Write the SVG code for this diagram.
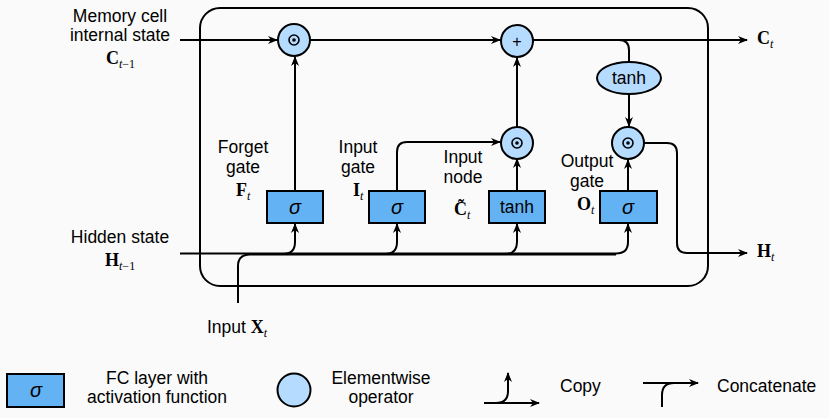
<svg xmlns="http://www.w3.org/2000/svg" width="829" height="418" viewBox="0 0 829 418">
<defs>
<marker id="ah" viewBox="0 0 10 8" refX="9" refY="4" markerWidth="10" markerHeight="8" markerUnits="userSpaceOnUse" orient="auto">
<path d="M0,0 L10,4 L0,8 L3,4 z" fill="#000"/>
</marker>
</defs>
<style>
.ln{fill:none;stroke:#000;stroke-width:2}
.ar{marker-end:url(#ah)}
.box{fill:#63b3f4;stroke:#000;stroke-width:2}
.op{fill:#b5dbff;stroke:#000;stroke-width:2}
.t{font-family:"Liberation Sans",Arial,sans-serif;font-size:17.5px;fill:#000}
.m{text-anchor:middle}
.sg{font-family:"Liberation Sans",Arial,sans-serif;font-size:20px;font-style:italic;text-anchor:middle}
.v{font-family:"Liberation Serif","Times New Roman",serif;font-size:18px;font-weight:bold}
.s{font-size:12px;font-weight:normal}
.i{font-style:italic}
</style>
<rect width="829" height="418" fill="#fafafa"/>
<rect x="200" y="8" width="508" height="278" rx="20" class="ln"/>

<g id="connectors">
<path class="ln ar" d="M180,40 L277,40"/>
<path class="ln ar" d="M310,40 L500,40"/>
<path class="ln ar" d="M533,40 L747,40"/>
<path class="ln" d="M533,40 L619,40 Q629,40 629,50 L629,62"/>
<path class="ln ar" d="M629,94 L629,126"/>
<path class="ln ar" d="M295,191 L295,57"/>
<path class="ln ar" d="M397,191 L397,152 Q397,142 407,142 L500,142"/>
<path class="ln ar" d="M517,191 L517,159"/>
<path class="ln ar" d="M517,127 L517,58"/>
<path class="ln ar" d="M628,191 L628,160"/>
<path class="ln ar" d="M644,143 L667,143 Q677,143 677,153 L677,243 Q677,253 687,253 L747,253"/>
<path class="ln ar" d="M180,253.5 L616,253.5 Q628,253.5 628,242 L628,224"/>
<path class="ln" d="M238,303 L238,266 Q238,254.5 250,254.5 L616,254.5"/>
<path class="ln ar" d="M283,254 Q295,254 295,242 L295,224"/>
<path class="ln ar" d="M385,254 Q397,254 397,242 L397,224"/>
<path class="ln ar" d="M505,254 Q517,254 517,242 L517,224"/>
</g>

<g id="forget-mult"><circle cx="294" cy="40" r="16" class="op"/><circle cx="294" cy="40" r="5" fill="none" stroke="#000" stroke-width="1.6"/><circle cx="294" cy="40" r="1.8"/></g>
<g id="plus"><circle cx="517" cy="41" r="16" class="op"/><text x="517" y="46.5" class="t m" style="font-size:16px">+</text></g>
<g id="tanh-c"><ellipse cx="629" cy="78" rx="32" ry="16" class="op"/><text x="629" y="84" class="t m">tanh</text></g>
<g id="input-mult"><circle cx="517" cy="143" r="16" class="op"/><circle cx="517" cy="143" r="5" fill="none" stroke="#000" stroke-width="1.6"/><circle cx="517" cy="143" r="1.8"/></g>
<g id="output-mult"><circle cx="628" cy="143" r="16" class="op"/><circle cx="628" cy="143" r="5" fill="none" stroke="#000" stroke-width="1.6"/><circle cx="628" cy="143" r="1.8"/></g>

<g id="forget-gate"><rect x="267" y="191" width="56" height="32" class="box"/><text x="295" y="214" class="sg">σ</text>
<text x="243" y="153" class="t m">Forget</text><text x="243" y="173" class="t m">gate</text>
<text x="236" y="196" class="v">F<tspan class="s i" dy="4">t</tspan></text></g>
<g id="input-gate"><rect x="369" y="191" width="56" height="32" class="box"/><text x="397" y="214" class="sg">σ</text>
<text x="358" y="153" class="t m">Input</text><text x="358" y="173" class="t m">gate</text>
<text x="353" y="196" class="v">I<tspan class="s i" dy="4">t</tspan></text></g>
<g id="input-node"><rect x="489" y="191" width="56" height="32" class="box"/><text x="517" y="213" class="t m">tanh</text>
<text x="463" y="163" class="t m">Input</text><text x="463" y="183" class="t m">node</text>
<text x="454" y="215" class="v">C&#x303;<tspan class="s i" dy="4">t</tspan></text></g>
<g id="output-gate"><rect x="600" y="191" width="57" height="32" class="box"/><text x="628" y="214" class="sg">σ</text>
<text x="587" y="167" class="t m">Output</text><text x="587" y="187" class="t m">gate</text>
<text x="577" y="210" class="v">O<tspan class="s i" dy="4">t</tspan></text></g>

<g id="c-prev"><text x="120" y="22" class="t m">Memory cell</text><text x="120" y="41" class="t m">internal state</text>
<text x="106" y="64" class="v">C<tspan class="s" dy="4"><tspan class="i">t</tspan>−1</tspan></text></g>
<g id="h-prev"><text x="120" y="243" class="t m">Hidden state</text>
<text x="105" y="266" class="v">H<tspan class="s" dy="4"><tspan class="i">t</tspan>−1</tspan></text></g>
<g id="x-in"><text x="207" y="333" class="t">Input <tspan class="v">X<tspan class="s i" dy="4">t</tspan></tspan></text></g>
<g id="c-out"><text x="757" y="44" class="v">C<tspan class="s i" dy="4">t</tspan></text></g>
<g id="h-out"><text x="757" y="257" class="v">H<tspan class="s i" dy="4">t</tspan></text></g>

<g id="legend">
<rect x="7" y="374" width="57" height="33" class="box"/><text x="36" y="397" class="sg">σ</text>
<text x="157" y="384" class="t m">FC layer with</text><text x="157" y="403" class="t m">activation function</text>
<circle cx="294" cy="390" r="16.5" class="op"/>
<text x="381" y="384" class="t m">Elementwise</text><text x="381" y="403" class="t m">operator</text>
<path class="ln ar" d="M484,403 L539,403"/>
<path class="ln ar" d="M496,403 Q508,403 508,391 L508,373"/>
<text x="560" y="392" class="t">Copy</text>
<path class="ln ar" d="M643,383 L698,383"/>
<path class="ln" d="M662,407 L662,395 Q662,383 674,383"/>
<text x="717" y="392" class="t">Concatenate</text>
</g>
</svg>
